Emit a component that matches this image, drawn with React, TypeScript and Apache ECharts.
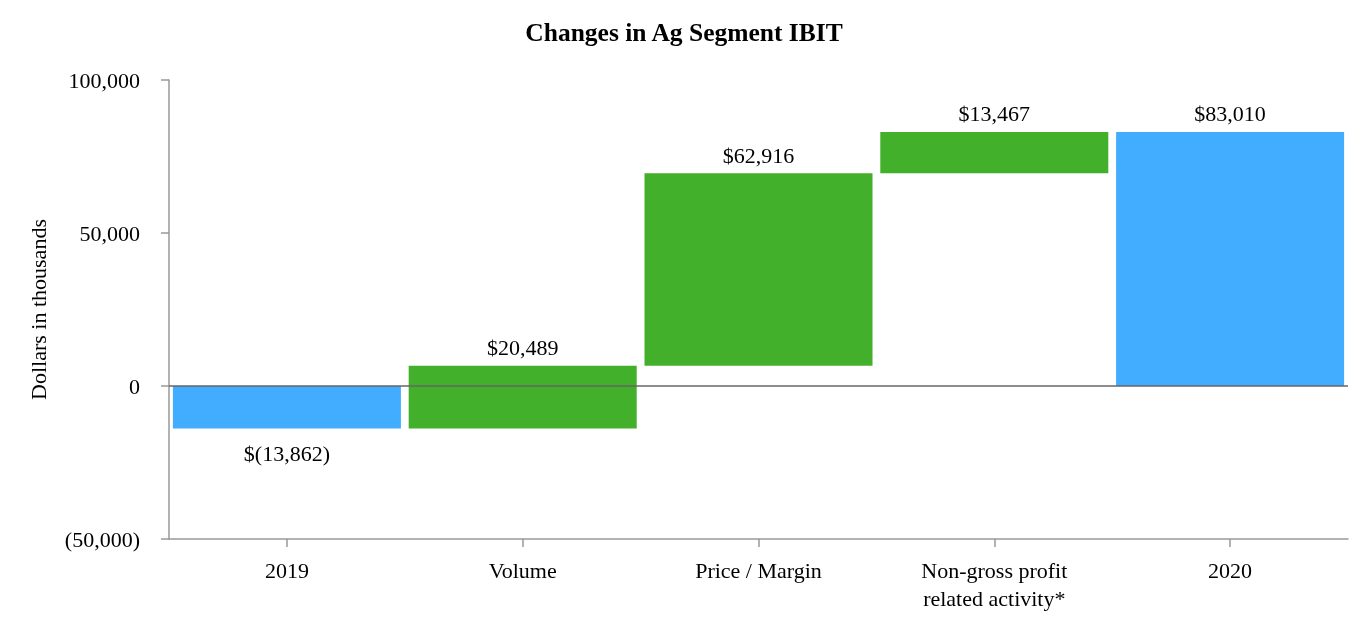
import React, { useEffect, useRef } from "react";
import * as echarts from "echarts";

const categories = ["2019", "Volume", "Price / Margin", "Non-gross profit\nrelated activity*", "2020"];
const baseValues = [0, -13862, 6627, 69543, 0];
const deltaValues = [-13862, 20489, 62916, 13467, 83010];
const barColors = ["#42adff", "#43b02c", "#43b02c", "#43b02c", "#42adff"];
const yTicks = { min: -50000, max: 100000, interval: 50000 };

const fmtMoney = (v: number) => {
  const s = Math.abs(v).toLocaleString("en-US");
  return v < 0 ? `$(${s})` : `$${s}`;
};
const fmtAxis = (v: number) => {
  const s = Math.abs(v).toLocaleString("en-US");
  return v < 0 ? `(${s})` : s;
};

const FONT = "Liberation Serif";
const FS = 22;

export default function App() {
  const ref = useRef<HTMLDivElement>(null);
  useEffect(() => {
    if (!ref.current) return;
    const chart = echarts.init(ref.current, null, { renderer: "svg" });
    chart.setOption({
      animation: false,
      textStyle: { fontFamily: FONT },
      title: {
        text: "Changes in Ag Segment IBIT",
        left: "center",
        top: 14,
        textStyle: { fontFamily: FONT, fontSize: 25.5, fontWeight: "bold", color: "#000" },
      },
      grid: { left: 169, right: 20, top: 80, bottom: 87 },
      xAxis: {
        type: "category",
        data: categories,
        axisLine: { onZero: false, lineStyle: { color: "#999", width: 1.5 } },
        axisTick: { show: true, alignWithLabel: true, length: 8, lineStyle: { color: "#999", width: 1.5 } },
        axisLabel: { color: "#000", fontSize: FS, fontFamily: FONT, margin: 17, lineHeight: 28, interval: 0 },
      },
      yAxis: {
        type: "value",
        min: yTicks.min,
        max: yTicks.max,
        interval: yTicks.interval,
        name: "Dollars in thousands",
        nameLocation: "middle",
        nameGap: 120,
        nameRotate: 90,
        nameTextStyle: { color: "#000", fontSize: FS, fontFamily: FONT },
        axisLine: { show: true, lineStyle: { color: "#999", width: 1.5 } },
        axisTick: { show: true, length: 8, lineStyle: { color: "#999", width: 1.5 } },
        axisLabel: { color: "#000", fontSize: FS, fontFamily: FONT, margin: 29, formatter: fmtAxis },
        splitLine: { show: false },
      },
      series: [
        {
          type: "bar",
          stack: "w",
          stackStrategy: "all",
          barCategoryGap: "3.3%",
          itemStyle: { color: "transparent" },
          emphasis: { disabled: true },
          data: baseValues,
          markLine: {
            silent: true,
            symbol: "none",
            label: { show: false },
            lineStyle: { color: "#666", width: 1.5, type: "solid" },
            data: [{ yAxis: 0 }],
          },
        },
        {
          type: "bar",
          stack: "w",
          stackStrategy: "all",
          barCategoryGap: "3.3%",
          data: deltaValues.map((v, i) => ({
            value: v,
            itemStyle: { color: barColors[i] },
            label: {
              show: true,
              position: v < 0 ? "bottom" : "top",
              distance: v < 0 ? 14 : 7,
              formatter: () => fmtMoney(v),
              color: "#000",
              fontSize: FS,
              fontFamily: FONT,
            },
          })),
        },
      ],
    });
    return () => chart.dispose();
  }, []);
  return <div ref={ref} style={{ position: "fixed", left: 0, top: 0, width: 1368, height: 626 }} />;
}
